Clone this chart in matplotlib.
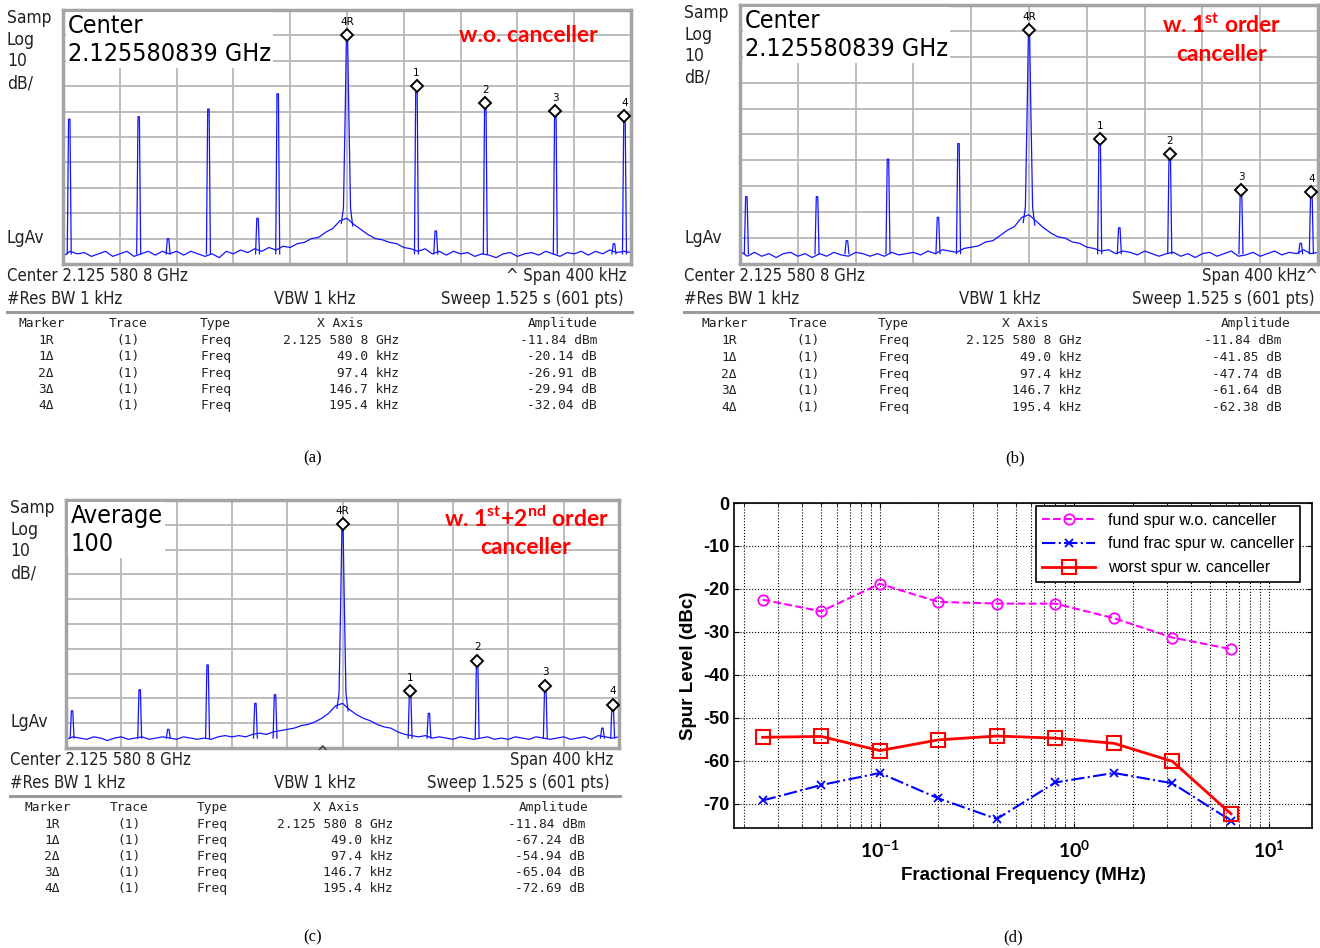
import numpy as np
import matplotlib.pyplot as plt

plt.rcParams['axes.unicode_minus'] = False
plt.rcParams['mathtext.fontset'] = 'custom'
plt.rcParams['mathtext.bf'] = 'Lato:bold'
plt.rcParams['mathtext.rm'] = 'Lato'

W, H = 1320, 948

# ---- spectrum analyzer screens: offset from center (kHz), level (dBm)
offs = np.arange(-200, 201, 5)

floor_a = [-99, -97, -98, -97.5, -99, -98, -97, -99, -98, -97, -99, -98, -97, -98.5, -97, -98,
           -97, -98.5, -97, -98, -99, -98, -99.5, -97, -98, -96.5, -97.5, -96, -97, -95.5, -96.5,
           -95, -95.5, -94, -93.5, -92, -91.5, -89.5, -88, -85, -84, -86.5, -88.5, -90.5, -92,
           -92.5, -93.5, -94, -95.5, -96, -97, -96, -98, -97, -98.5, -97, -98, -97.5, -99, -98,
           -98.5, -99.5, -98, -97.5, -99, -98, -97.5, -98.5, -97, -98, -99, -97.5, -98, -97,
           -98.5, -97, -98, -96.5, -97.5, -97, -97.5]
floor_b = [-97, -99, -97.5, -99, -98, -99.5, -98, -97.5, -99, -98, -99.5, -98, -99, -97.5, -98.5,
           -99, -97.5, -98, -99, -98, -99, -97.5, -98.5, -98, -97.5, -98.5, -97, -98, -96.5, -97,
           -97.5, -96, -95.5, -95, -93.5, -93, -91, -89, -87.5, -84, -83, -85.5, -88, -90, -91.5,
           -92, -93.5, -94, -95.5, -96, -97, -96.5, -98, -97, -97.5, -98.5, -97, -98, -99, -98,
           -97.5, -99, -98, -99.5, -98, -97.5, -99, -98, -97, -99, -98.5, -97.5, -99, -98, -97,
           -98.5, -97.5, -98, -96.5, -98, -97.5]
floor_c = [-98.5, -97.5, -98, -98.5, -97.5, -98, -99, -98, -97.5, -98.5, -98, -97.5, -98.5, -98,
           -97.5, -98, -98.5, -97.5, -98, -98.5, -98, -98.5, -97.5, -97, -97.5, -97, -97.5, -96.5,
           -96, -96.5, -95.5, -95, -94.5, -94, -93, -92.5, -91.5, -90, -88, -85, -84, -86.5, -88.5,
           -90, -91, -92.5, -93.5, -94, -95.5, -96.5, -97, -97.5, -97, -98, -97.5, -98, -98.5,
           -97.5, -98, -98.5, -98, -97.5, -98.5, -98, -98.5, -97.5, -98, -98.5, -97.5, -98, -98.5,
           -98, -97.5, -98.5, -98, -97.5, -98.5, -97, -97.5, -98, -97.5]

spur_khz = [-195.6, -146.7, -126.0, -97.6, -63.0, -48.8, 48.9, 62.5, 97.4, 146.7, 188.0, 195.4]
spur_a = [-45, -44, -92, -41, -84, -35, -31.98, -89, -38.75, -41.78, -94, -43.88]
spur_b = [-76, -76, -93, -61.5, -84, -55.5, -53.69, -88, -59.58, -73.48, -94, -74.22]
spur_c = [-87, -78.5, -94.5, -68.5, -84, -80.5, -79.08, -88, -66.78, -76.88, -94, -84.53]

carrier_khz = [-4, -2.5, -1.2, -0.4, 0.4, 1.2, 2.5, 4]
carrier_dbm = [-86, -80, -40, -11.84, -11.84, -40, -80, -87]

# marker table
marker_tags = ['4R', '1', '2', '3', '4']
marker_names = ['1R', '1\u0394', '2\u0394', '3\u0394', '4\u0394']
marker_khz = [0, 49.0, 97.4, 146.7, 195.4]
x_axis = ['2.125 580 8 GHz', '49.0 kHz', '97.4 kHz', '146.7 kHz', '195.4 kHz']
amp_a = [-11.84, -20.14, -26.91, -29.94, -32.04]
amp_b = [-11.84, -41.85, -47.74, -61.64, -62.38]
amp_c = [-11.84, -67.24, -54.94, -65.04, -72.69]

# ---- spur summary (d)
freq_mhz = [0.025, 0.05, 0.1, 0.2, 0.4, 0.8, 1.6, 3.2, 6.4]
fund_wo = [-22.5, -25.2, -18.8, -23.0, -23.4, -23.4, -26.8, -31.3, -34.0]
frac_w = [-69.2, -65.6, -62.8, -68.7, -73.5, -65.0, -62.8, -65.2, -73.9]
worst_w = [-54.5, -54.3, -57.6, -55.1, -54.2, -54.7, -55.9, -60.1, -72.3]

fig = plt.figure(figsize=(W / 100, H / 100), dpi=100)

BLUE = '#1414ff'
SA = dict(family='DejaVu Sans', stretch='condensed', color='#222222')
MONO = dict(family='DejaVu Sans Mono', fontsize=9.3, color='#222222', va='baseline')


def add_box(x0, y0, x1, y1):
    return fig.add_axes([x0 / W, 1 - y1 / H, (x1 - x0) / W, (y1 - y0) / H])


def put(x, y, s, **kw):
    kw.setdefault('va', 'center')
    fig.text(x / W, 1 - y / H, s, **kw)


def analyzer(box, floor, spurs, amps, big, red, cols, row_y, info):
    x0, y0, x1, y1 = box
    ax = add_box(*box)
    ax.set_xlim(-200, 200)
    ax.set_ylim(-102, -2)
    ax.set_xticks(np.arange(-200, 201, 40))
    ax.set_yticks(np.arange(-102, -1, 10))
    ax.grid(True, color='#b8b8b8', lw=1.3)
    ax.tick_params(length=0, labelbottom=False, labelleft=False)
    for s in ax.spines.values():
        s.set_color('#a4a4a4')
        s.set_linewidth(2.5)
    ax.plot(offs, floor, color=BLUE, lw=0.9)
    for f, lv in zip(spur_khz, spurs):
        ax.plot([f - 1.4, f - 0.5, f + 0.5, f + 1.4], [-98, lv, lv, -98], color=BLUE, lw=0.9)
    ax.plot(carrier_khz, carrier_dbm, color=BLUE, lw=0.9)
    levels = [amps[0]] + [amps[0] + a for a in amps[1:]]
    ax.plot(marker_khz, levels, 'D', ms=6, mfc='white', mec='black', mew=1.4, zorder=5)
    for f, lv, lab in zip(marker_khz, levels, marker_tags):
        ax.annotate(lab, (f, lv), xytext=(0, 6), textcoords='offset points',
                    ha='center', va='bottom', fontsize=7.5, family='DejaVu Sans')
    ax.text(0.008, 0.985, big, transform=ax.transAxes, ha='left', va='top', fontsize=18,
            linespacing=1.2, bbox=dict(fc='white', ec='none', pad=1.5), zorder=6,
            family='DejaVu Sans', stretch='condensed', color='black')
    for (rx, ry, s) in red:
        ax.text((rx - x0) / (x1 - x0), 1 - (ry - y0) / (y1 - y0), s, transform=ax.transAxes,
                ha='center', va='center', fontsize=16.5, color='#ff0000', fontweight='bold',
                family='Lato', zorder=6)

    # left side labels
    lx = x0 - 56
    for dy, s in [(8, 'Samp'), (30, 'Log'), (51, '10'), (73, 'dB/')]:
        put(lx, y0 + dy, s, fontsize=12.5, **SA)
    put(lx, y1 - 26, 'LgAv', fontsize=12.5, **SA)

    # settings under the screen
    span, vbw_x, right_x = info
    put(lx, y1 + 12, 'Center 2.125 580 8 GHz', fontsize=12, **SA)
    put(right_x, y1 + 12, span, fontsize=12, ha='right', **SA)
    put(lx, y1 + 35, '#Res BW 1 kHz', fontsize=12, **SA)
    put(vbw_x, y1 + 35, 'VBW 1 kHz', fontsize=12, ha='center', **SA)
    put(right_x - 3, y1 + 35, 'Sweep 1.525 s (601 pts)', fontsize=12, ha='right', **SA)
    fig.add_artist(plt.Line2D([lx / W, (x1 + 1) / W], [1 - (y1 + 48) / H] * 2,
                              color='#9a9a9a', lw=2.2))

    # marker table
    c_mk, c_tr, c_ty, c_xh, c_xv, c_ah, c_av = cols
    hy = y1 + 63
    put(c_mk, hy, 'Marker', ha='center', **MONO)
    put(c_tr, hy, 'Trace', ha='center', **MONO)
    put(c_ty, hy, 'Type', ha='left', **MONO)
    put(c_xh, hy, 'X Axis', ha='center', **MONO)
    put(c_ah, hy, 'Amplitude', ha='center', **MONO)
    for i in range(5):
        y = hy + 17 + i * row_y
        unit = 'dBm' if i == 0 else 'dB'
        put(c_mk + 4, y, marker_names[i], ha='center', **MONO)
        put(c_tr, y, '(1)', ha='center', **MONO)
        put(c_ty, y, 'Freq', ha='left', **MONO)
        put(c_xv, y, x_axis[i], ha='right', **MONO)
        put(c_av, y, '%.2f %s' % (amps[i], unit), ha='right', **MONO)
    return ax


analyzer((63, 10, 631, 264), floor_a, spur_a, amp_a,
         'Center\n2.125580839 GHz', [(528, 35, 'w.o. canceller')],
         (42, 128, 200, 340, 399, 563, 597), 16.3, ('^ Span 400 kHz', 315, 627))
analyzer((740, 5, 1318, 264), floor_b, spur_b, amp_b,
         'Center\n2.125580839 GHz',
         [(1222, 25, r'w. 1$^{\mathbf{st}}$ order'), (1222, 55, 'canceller')],
         (725, 808, 878, 1025, 1082, 1256, 1282), 16.8, ('Span 400 kHz^', 1000, 1318))
analyzer((66, 500, 619, 748), floor_c, spur_c, amp_c,
         'Average\n100',
         [(526, 518, r'w. 1$^{\mathbf{st}}$+2$^{\mathbf{nd}}$ order'), (526, 547, 'canceller')],
         (48, 129, 197, 336, 393, 554, 585), 16.0, ('Span 400 kHz', 315, 613))
put(322, 753, '^', fontsize=11, ha='center', **SA)

# ---- (d)
ax = add_box(734, 503, 1312, 828)
ax.semilogx(freq_mhz, fund_wo, '--o', color='#ff00ff', lw=1.5, ms=7.5, mfc='none', mew=1.3,
            label='fund spur w.o. canceller')
ax.semilogx(freq_mhz, frac_w, '-.x', color='#0000ff', lw=1.5, ms=6, mew=1.3,
            label='fund frac spur w. canceller')
ax.semilogx(freq_mhz, worst_w, '-s', color='#ff0000', lw=2, ms=9.5, mfc='none', mew=1.5,
            label='worst spur w. canceller')
ax.set_xlim(0.0178, 16.7)
ax.set_ylim(-75.6, 0)
ax.set_yticks(np.arange(-70, 1, 10))
ax.set_yticklabels([str(v) for v in range(-70, 1, 10)])
ax.set_xticks([0.1, 1, 10])
ax.set_xticklabels([r'$\mathbf{10^{-1}}$', r'$\mathbf{10^{0}}$', r'$\mathbf{10^{1}}$'])
ax.grid(True, which='major', ls=':', color='black', lw=0.8)
ax.grid(True, which='minor', axis='x', ls=':', color='black', lw=0.8)
ax.tick_params(which='both', direction='in', top=True, right=True, labelsize=13)
ax.tick_params(axis='x', which='major', pad=9, labelsize=14)
for t in ax.get_yticklabels() + ax.get_xticklabels():
    t.set_fontweight('bold')
    t.set_family('Liberation Sans')
ax.set_xlabel('Fractional Frequency (MHz)', fontsize=13.5, fontweight='bold',
              family='Liberation Sans', labelpad=4)
ax.set_ylabel('Spur Level (dBc)', fontsize=13.5, fontweight='bold', family='Liberation Sans',
              labelpad=4)
for s in ax.spines.values():
    s.set_linewidth(1.2)
leg = ax.legend(loc='upper right', bbox_to_anchor=(0.98, 0.99), borderaxespad=0,
                handlelength=3.3, labelspacing=0.55, fancybox=False,
                framealpha=1, edgecolor='black', prop={'family': 'Liberation Sans', 'size': 11.5})
leg.get_frame().set_linewidth(1.2)

# captions
for x, y, s in [(313, 458, '(a)'), (1015, 458, '(b)'), (313, 937, '(c)'), (1013, 937, '(d)')]:
    put(x, y, s, ha='center', fontsize=12, family='Liberation Serif')

fig.savefig('out.png', dpi=100)
